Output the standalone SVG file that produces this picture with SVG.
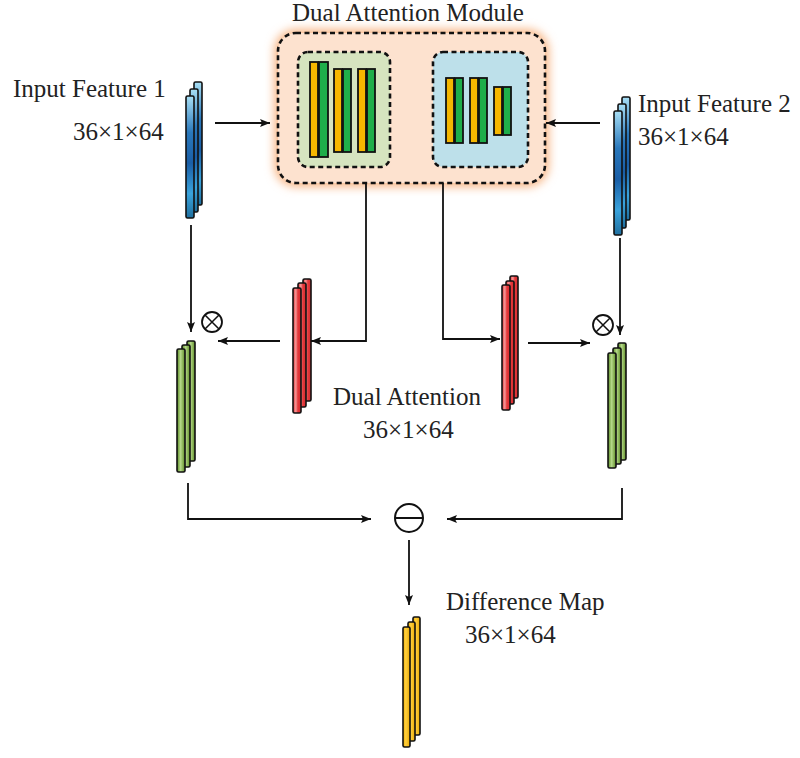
<svg xmlns="http://www.w3.org/2000/svg" width="800" height="758" viewBox="0 0 800 758">
<defs>
<style>
.lbl{font-family:"Liberation Serif","Times New Roman",serif;font-size:25px;fill:#222}
.bar{stroke:#111;stroke-width:1.6}
.ln{fill:none;stroke:#111;stroke-width:1.8}
.dash{fill:none;stroke:#111;stroke-width:2.6;stroke-dasharray:5 3.5}
.y{fill:#f6b700;stroke:#111;stroke-width:1.8}
.g{fill:#1fae4a;stroke:#111;stroke-width:1.8}
.blue{fill:url(#gBlue)}
.green{fill:url(#gGreen)}
.red{fill:url(#gRed)}
.orange{fill:url(#gOrange)}
.op{fill:#fff;stroke:#111;stroke-width:1.8}
</style>
<linearGradient id="gBlue" x1="0" y1="0" x2="0" y2="1">
<stop offset="0" stop-color="#a8dff5"/>
<stop offset="0.3" stop-color="#2a78bb"/>
<stop offset="0.55" stop-color="#1a5ea6"/>
<stop offset="0.8" stop-color="#3aa3dc"/>
<stop offset="1" stop-color="#1f6f9f"/>
</linearGradient>
<linearGradient id="gGreen" x1="0" y1="0" x2="1" y2="0">
<stop offset="0" stop-color="#5a8a22"/>
<stop offset="0.45" stop-color="#b5d98a"/>
<stop offset="1" stop-color="#5e8c24"/>
</linearGradient>
<linearGradient id="gRed" x1="0" y1="0" x2="1" y2="0">
<stop offset="0" stop-color="#e23236"/>
<stop offset="0.35" stop-color="#f59a9a"/>
<stop offset="0.6" stop-color="#e53a3c"/>
<stop offset="1" stop-color="#d82a2e"/>
</linearGradient>
<linearGradient id="gOrange" x1="0" y1="0" x2="1" y2="0">
<stop offset="0" stop-color="#f2b000"/>
<stop offset="0.4" stop-color="#ffd040"/>
<stop offset="1" stop-color="#eaa800"/>
</linearGradient>
<filter id="glow" x="-20%" y="-20%" width="140%" height="140%">
<feGaussianBlur stdDeviation="5"/>
</filter>
<marker id="ah" viewBox="0 0 10 8" refX="10" refY="4" markerWidth="10" markerHeight="8" markerUnits="userSpaceOnUse" orient="auto">
<path d="M0,0 L10,4 L0,8 L2,4 z" fill="#111"/>
</marker>
</defs>
<rect width="800" height="758" fill="#fff"/>

<text class="lbl" x="292" y="21">Dual Attention Module</text>

<g id="module">
<rect x="274" y="29" width="275" height="158" rx="22" fill="#f8b888" filter="url(#glow)"/>
<rect x="278" y="33" width="267" height="150" rx="18" fill="#fde2cf"/>
<rect x="278" y="33" width="267" height="150" rx="18" class="dash"/>
<g id="channel-box">
<rect x="298" y="52" width="92" height="115" rx="10" class="dash" style="fill:#d6e4bf"/>
<rect x="310" y="62" width="8" height="95" class="y"/>
<rect x="319" y="62" width="9" height="95" class="g"/>
<rect x="334" y="69" width="8" height="83" class="y"/>
<rect x="343" y="69" width="8" height="83" class="g"/>
<rect x="358" y="69" width="8" height="83" class="y"/>
<rect x="367" y="69" width="8" height="83" class="g"/>
</g>
<g id="spatial-box">
<rect x="433" y="52" width="95" height="115" rx="10" class="dash" style="fill:#bde0ea"/>
<rect x="446" y="78" width="8" height="65" class="y"/>
<rect x="455" y="78" width="8" height="65" class="g"/>
<rect x="470" y="78" width="8" height="65" class="y"/>
<rect x="479" y="78" width="8" height="65" class="g"/>
<rect x="494" y="87" width="8" height="48" class="y"/>
<rect x="503" y="87" width="8" height="48" class="g"/>
</g>
</g>

<g id="input1">
<rect x="194" y="82" width="8" height="123" rx="1.5" class="bar blue"/>
<rect x="190" y="89" width="8" height="123" rx="1.5" class="bar blue"/>
<rect x="186" y="96" width="8" height="122" rx="1.5" class="bar blue"/>
<text class="lbl" x="13" y="97">Input Feature 1</text>
<text class="lbl" x="73" y="140">36×1×64</text>
</g>

<g id="input2">
<rect x="622" y="97" width="8" height="123" rx="1.5" class="bar blue"/>
<rect x="618" y="104" width="8" height="124" rx="1.5" class="bar blue"/>
<rect x="614" y="111" width="8" height="124" rx="1.5" class="bar blue"/>
<text class="lbl" x="638" y="112">Input Feature 2</text>
<text class="lbl" x="638" y="145">36×1×64</text>
</g>

<g id="att1">
<rect x="303" y="279" width="8" height="122" rx="1.5" class="bar red"/>
<rect x="298" y="283" width="8" height="124" rx="1.5" class="bar red"/>
<rect x="293" y="288" width="8" height="125" rx="1.5" class="bar red"/>
</g>

<g id="att2">
<rect x="510" y="276" width="8" height="122" rx="1.5" class="bar red"/>
<rect x="506" y="281" width="8" height="123" rx="1.5" class="bar red"/>
<rect x="502" y="285" width="8" height="125" rx="1.5" class="bar red"/>
</g>

<g id="att-label">
<text class="lbl" x="333" y="405">Dual Attention</text>
<text class="lbl" x="363" y="438">36×1×64</text>
</g>

<g id="weighted1">
<rect x="187" y="341" width="8" height="120" rx="1.5" class="bar green"/>
<rect x="182" y="345" width="8" height="122" rx="1.5" class="bar green"/>
<rect x="177" y="349" width="8" height="123" rx="1.5" class="bar green"/>
</g>

<g id="weighted2">
<rect x="618" y="343" width="8" height="117" rx="1.5" class="bar green"/>
<rect x="613" y="348" width="8" height="116" rx="1.5" class="bar green"/>
<rect x="608" y="353" width="8" height="115" rx="1.5" class="bar green"/>
</g>

<g id="mul1">
<circle cx="212" cy="322" r="10" class="op"/>
<path d="M205,315 L219,329 M219,315 L205,329" class="ln" style="stroke-width:1.5"/>
</g>
<g id="mul2">
<circle cx="603" cy="325" r="10" class="op"/>
<path d="M596,318 L610,332 M610,318 L596,332" class="ln" style="stroke-width:1.5"/>
</g>
<g id="sub">
<circle cx="409" cy="518" r="14" class="op" style="stroke-width:2"/>
<path d="M395,518 L423,518" class="ln" style="stroke-width:2"/>
</g>

<g id="diff">
<rect x="413" y="617" width="7" height="118" rx="1.5" class="bar orange"/>
<rect x="408" y="622" width="7" height="119" rx="1.5" class="bar orange"/>
<rect x="403" y="627" width="7" height="120" rx="1.5" class="bar orange"/>
<text class="lbl" x="446" y="610">Difference Map</text>
<text class="lbl" x="465" y="643">36×1×64</text>
</g>

<g id="connectors">
<path d="M215,123 L270,123" class="ln" marker-end="url(#ah)"/>
<path d="M600,123 L546,123" class="ln" marker-end="url(#ah)"/>
<path d="M191,225 L191,332" class="ln" marker-end="url(#ah)"/>
<path d="M620,238 L620,335" class="ln" marker-end="url(#ah)"/>
<path d="M366,183 L366,341 L311,341" class="ln" marker-end="url(#ah)"/>
<path d="M443,183 L443,339 L500,339" class="ln" marker-end="url(#ah)"/>
<path d="M280,341 L218,341" class="ln" marker-end="url(#ah)"/>
<path d="M528,343 L590,343" class="ln" marker-end="url(#ah)"/>
<path d="M188,483 L188,519 L371,519" class="ln" marker-end="url(#ah)"/>
<path d="M622,488 L622,519 L447,519" class="ln" marker-end="url(#ah)"/>
<path d="M409,540 L409,605" class="ln" marker-end="url(#ah)"/>
</g>
</svg>
